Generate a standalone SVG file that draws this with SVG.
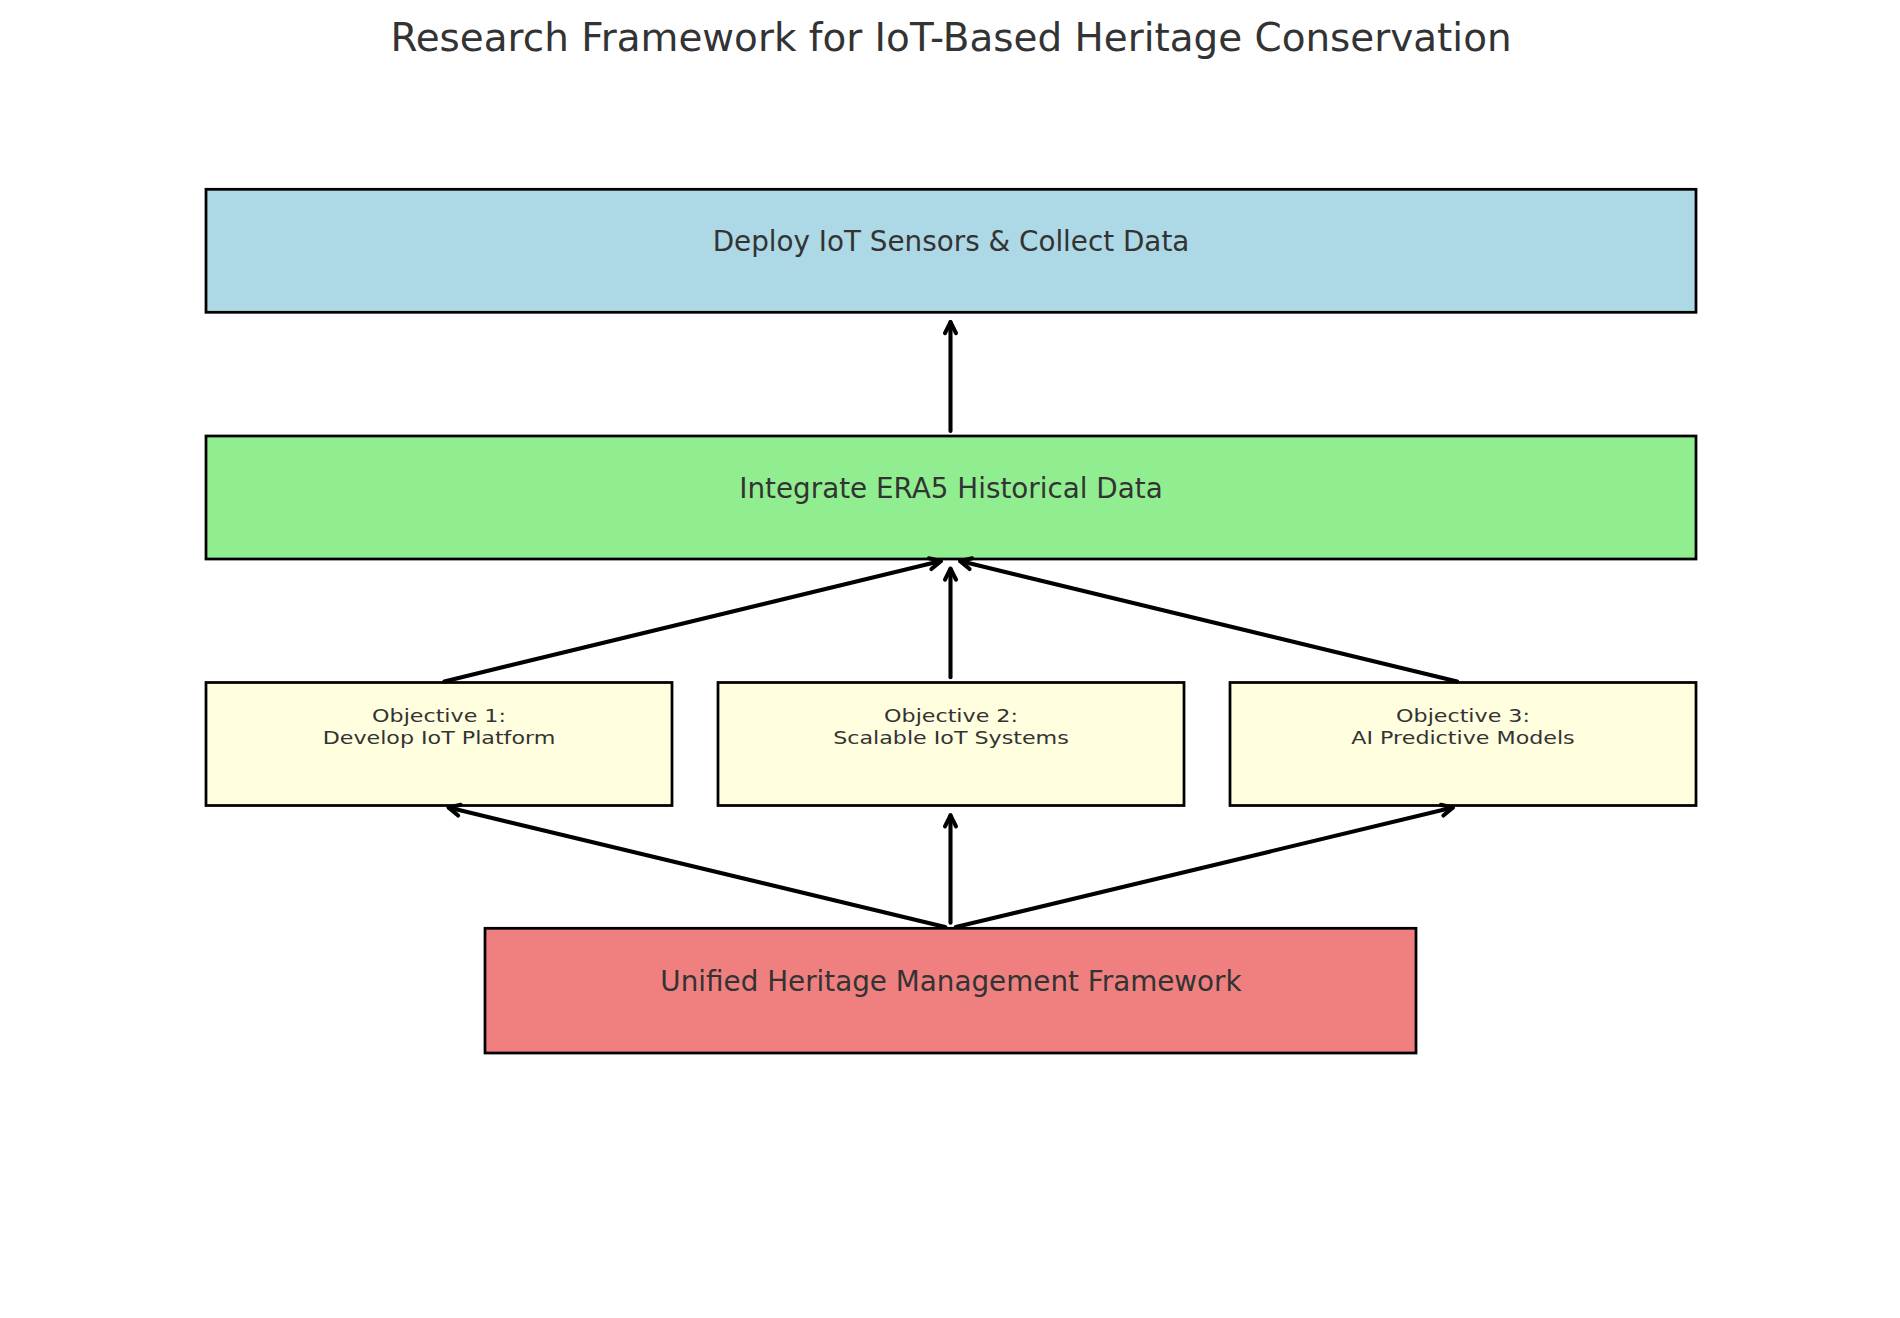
<svg xmlns="http://www.w3.org/2000/svg" width="1900" height="1318" viewBox="0 0 1900 1318">
<style>
  .box { stroke: #000; stroke-width: 2.75; }
  .t { font-family: "DejaVu Sans", "Liberation Sans", sans-serif; fill: #333333; text-anchor: middle; }
  .main { font-size: 27.8px; }
  .small { font-size: 21px; }
  .title { font-size: 38.9px; }
  .conn line { stroke: #000; stroke-width: 4.1; stroke-linecap: round; marker-end: url(#head); }
</style>
<defs>
  <marker id="head" markerUnits="userSpaceOnUse" markerWidth="30" markerHeight="30" refX="15" refY="15" orient="auto" overflow="visible">
    <path d="M4 9.5 L15 15 L4 20.5" fill="none" stroke="#000" stroke-width="4.1" stroke-linecap="round" stroke-linejoin="round"/>
  </marker>
</defs>
<rect width="1900" height="1318" fill="#ffffff"/>
<text class="t title" x="951" y="50.7">Research Framework for IoT-Based Heritage Conservation</text>

<g id="deploy">
  <rect class="box" x="206" y="189.3" width="1490" height="123" fill="#ADD8E6"/>
  <text class="t main" x="951" y="250.8">Deploy IoT Sensors &amp; Collect Data</text>
</g>
<g id="era5">
  <rect class="box" x="206" y="436" width="1490" height="123" fill="#90EE90"/>
  <text class="t main" x="951" y="497.5">Integrate ERA5 Historical Data</text>
</g>
<g id="obj1">
  <rect class="box" x="206" y="682.5" width="466" height="123" fill="#FFFFE0"/>
  <text class="t small" transform="translate(439 721.5) scale(1.057 0.88)">Objective 1:</text>
  <text class="t small" transform="translate(439 743.6) scale(1.057 0.88)">Develop IoT Platform</text>
</g>
<g id="obj2">
  <rect class="box" x="718" y="682.5" width="466" height="123" fill="#FFFFE0"/>
  <text class="t small" transform="translate(951 721.5) scale(1.057 0.88)">Objective 2:</text>
  <text class="t small" transform="translate(951 743.6) scale(1.057 0.88)">Scalable IoT Systems</text>
</g>
<g id="obj3">
  <rect class="box" x="1230" y="682.5" width="466" height="123" fill="#FFFFE0"/>
  <text class="t small" transform="translate(1463 721.5) scale(1.057 0.88)">Objective 3:</text>
  <text class="t small" transform="translate(1463 743.6) scale(1.057 0.88)">AI Predictive Models</text>
</g>
<g id="unified">
  <rect class="box" x="485" y="928.3" width="931" height="124.7" fill="#F08080"/>
  <text class="t main" x="951" y="990.7">Unified Heritage Management Framework</text>
</g>

<g id="connectors" class="conn">
  <line x1="950.5" y1="431" x2="950.5" y2="322.1"/>
  <line x1="444.3" y1="681.4" x2="940.8" y2="561.1"/>
  <line x1="950.5" y1="677.2" x2="950.5" y2="568.7"/>
  <line x1="1457.2" y1="681.4" x2="960.2" y2="561.1"/>
  <line x1="945.2" y1="927" x2="448.7" y2="807.6"/>
  <line x1="950.5" y1="922.8" x2="950.5" y2="815.3"/>
  <line x1="955.8" y1="927" x2="1452.8" y2="807.6"/>
</g>
</svg>
